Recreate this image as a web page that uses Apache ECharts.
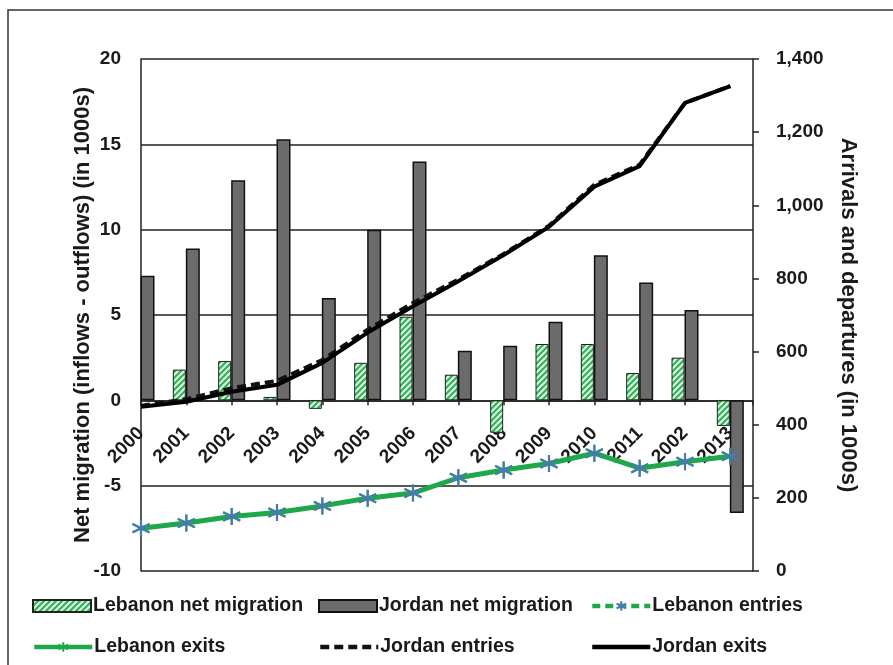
<!DOCTYPE html>
<html>
<head>
<meta charset="utf-8">
<script src="https://cdn.jsdelivr.net/npm/echarts@6/dist/echarts.min.js"></script>
<style>
  html, body { margin: 0; padding: 0; background: #fff; }
  #chart { width: 893px; height: 665px; }
</style>
</head>
<body>
<div id="chart"></div>
<script>
// tick labels of the category axis (the "2002" after 2011 is as printed)
var years = ["2000", "2001", "2002", "2003", "2004", "2005", "2006", "2007", "2008", "2009", "2010", "2011", "2002", "2013"];

// net migration, thousands (left axis)
var lebanonNet = [null, 1.8, 2.3, 0.2, -0.5, 2.2, 4.9, 1.5, -1.9, 3.3, 3.3, 1.6, 2.5, -1.5];
var jordanNet = [7.3, 8.9, 12.9, 15.3, 6.0, 10.0, 14.0, 2.9, 3.2, 4.6, 8.5, 6.9, 5.3, -6.6];

// arrivals / departures, thousands (right axis)
var lebanonEntries = [117, 131, 149, 160, 178, 199, 213, 255, 276, 294, 322, 281, 299, 314];
var lebanonExits = [117, 131, 149, 160, 178, 199, 213, 255, 276, 294, 322, 281, 299, 314];
var jordanEntries = [452, 470, 500, 520, 577, 660, 733, 797, 867, 944, 1056, 1111, 1280, 1326];
var jordanExits = [449, 463, 490, 509, 569, 652, 724, 792, 864, 941, 1051, 1107, 1280, 1326];

var leftMin = -10, leftMax = 20;
var gridTop = 59, gridBottom = 94, chartH = 665;

function pairs(arr) {
  return arr.map(function (v, i) { return [i, v]; });
}

// hatched green fill for the Lebanon bars
function hatch() {
  var c = document.createElement("canvas");
  c.width = 6;
  c.height = 6;
  var ctx = c.getContext("2d");
  ctx.fillStyle = "#d9f2df";
  ctx.fillRect(0, 0, 6, 6);
  ctx.strokeStyle = "#2fb155";
  ctx.lineWidth = 2;
  ctx.beginPath();
  ctx.moveTo(-1, 7); ctx.lineTo(7, -1);
  ctx.moveTo(-4, 4); ctx.lineTo(4, -4);
  ctx.moveTo(2, 10); ctx.lineTo(10, 2);
  ctx.stroke();
  return c;
}

var star = "path://M5,0L5,10M0.67,2.5L9.33,7.5M0.67,7.5L9.33,2.5";
var green = "#1fa84a";
var font = "Liberation Sans, Arial, sans-serif";

// the year axis sits on the zero line of the left axis
var plotH = chartH - gridTop - gridBottom;
var zeroOffset = -plotH * (0 - leftMin) / (leftMax - leftMin);

var myChart = echarts.init(document.getElementById("chart"));

function legendAt(item, left, top) {
  return {
    left: left,
    top: top,
    data: [item],
    itemWidth: 58,
    itemHeight: 12,
    padding: 0,
    textStyle: { fontFamily: font, fontWeight: "bold", fontSize: 19.5, color: "#1a1a1a", padding: [0, 0, 0, -3] }
  };
}

var option = {
  animation: false,
  backgroundColor: "#fff",
  graphic: [
    {
      type: "rect",
      shape: { x: 8, y: 10, width: 900, height: 700 },
      style: { fill: "none", stroke: "#333", lineWidth: 1.5 },
      silent: true
    }
  ],
  legend: [
    legendAt({ name: "Lebanon net migration", icon: "rect" }, 32, 596),
    legendAt({ name: "Jordan net migration", icon: "rect" }, 318, 596),
    legendAt({ name: "Lebanon entries", lineStyle: { width: 4.5 } }, 590, 596),
    legendAt({ name: "Lebanon exits", lineStyle: { width: 4.5 } }, 32, 637),
    legendAt({ name: "Jordan entries", lineStyle: { width: 4.5 }, itemStyle: { opacity: 0 } }, 318, 637),
    legendAt({ name: "Jordan exits", lineStyle: { width: 4.5 }, itemStyle: { opacity: 0 } }, 590, 637)
  ],
  grid: { left: 141, right: 140, top: gridTop, bottom: gridBottom },
  xAxis: {
    type: "value",
    min: 0,
    max: 13.5,
    interval: 1,
    position: "bottom",
    offset: zeroOffset,
    axisLine: { onZero: false, lineStyle: { color: "#222", width: 1.5 } },
    axisTick: { show: true, length: 5, lineStyle: { color: "#222", width: 1.5 } },
    splitLine: { show: false },
    axisLabel: {
      rotate: 45,
      margin: 30,
      fontFamily: font,
      fontWeight: "bold",
      fontSize: 19,
      color: "#1a1a1a",
      formatter: function (v) {
        return Number.isInteger(v) ? years[v] : "";
      }
    }
  },
  yAxis: [
    {
      type: "value",
      min: leftMin,
      max: leftMax,
      interval: 5,
      name: "Net migration (inflows - outflows) (in 1000s)",
      nameLocation: "middle",
      nameRotate: 90,
      nameGap: 47,
      nameMoveOverlap: false,
      nameTextStyle: { fontFamily: font, fontWeight: "bold", fontSize: 22, color: "#1a1a1a" },
      axisLine: { show: true, lineStyle: { color: "#222", width: 1.5 } },
      axisTick: { show: false },
      splitLine: { lineStyle: { color: "#222", width: 1.5 } },
      axisLabel: { margin: 20, fontFamily: font, fontWeight: "bold", fontSize: 19, color: "#1a1a1a" }
    },
    {
      type: "value",
      min: 0,
      max: 1400,
      interval: 200,
      position: "right",
      name: "Arrivals and departures (in 1000s)",
      nameLocation: "middle",
      nameRotate: -90,
      nameGap: 84,
      nameTextStyle: { fontFamily: font, fontWeight: "bold", fontSize: 22, color: "#1a1a1a" },
      axisLine: { show: true, lineStyle: { color: "#222", width: 1.5 } },
      axisTick: { show: true, length: 6, lineStyle: { color: "#222", width: 1.5 } },
      splitLine: { show: false },
      axisLabel: {
        margin: 23,
        fontFamily: font,
        fontWeight: "bold",
        fontSize: 19,
        color: "#1a1a1a",
        formatter: function (v) { return v.toLocaleString("en-US"); }
      }
    }
  ],
  series: [
    {
      name: "Lebanon net migration",
      type: "bar",
      barWidth: 13,
      barGap: "0%",
      itemStyle: { color: { image: hatch(), repeat: "repeat" }, borderColor: "#222", borderWidth: 1 },
      data: pairs(lebanonNet)
    },
    {
      name: "Jordan net migration",
      type: "bar",
      barWidth: 14,
      barGap: "0%",
      itemStyle: { color: "#6b6b6b", borderColor: "#111", borderWidth: 1.5 },
      data: pairs(jordanNet)
    },
    {
      name: "Lebanon entries",
      type: "line",
      yAxisIndex: 1,
      symbol: star,
      symbolSize: 17,
      z: 4,
      lineStyle: { color: green, width: 3, type: [8, 5] },
      itemStyle: { color: "#4a78b0", borderColor: "#4a78b0", borderWidth: 2.2 },
      data: pairs(lebanonEntries)
    },
    {
      name: "Lebanon exits",
      type: "line",
      yAxisIndex: 1,
      symbol: star,
      symbolSize: 17,
      z: 3,
      lineStyle: { color: green, width: 5 },
      itemStyle: { color: green, borderColor: green, borderWidth: 2 },
      data: pairs(lebanonExits)
    },
    {
      name: "Jordan entries",
      type: "line",
      yAxisIndex: 1,
      symbol: "none",
      lineStyle: { color: "#111", width: 4, type: [9, 5] },
      itemStyle: { color: "#111" },
      data: pairs(jordanEntries)
    },
    {
      name: "Jordan exits",
      type: "line",
      yAxisIndex: 1,
      symbol: "none",
      lineStyle: { color: "#000", width: 4 },
      itemStyle: { color: "#000" },
      data: pairs(jordanExits)
    }
  ]
};

myChart.setOption(option);
</script>
</body>
</html>
